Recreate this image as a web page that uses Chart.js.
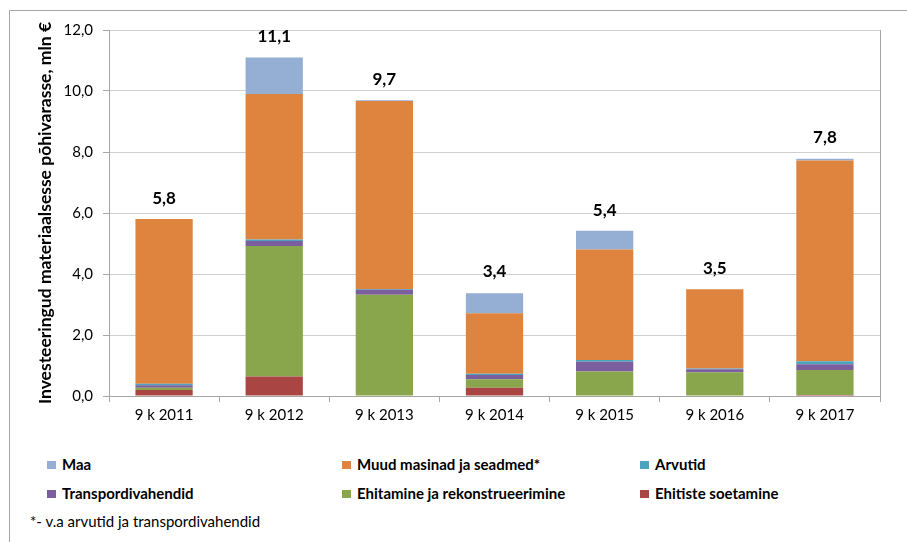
<!DOCTYPE html>
<html>
<head>
<meta charset="utf-8">
<script src="https://cdn.jsdelivr.net/npm/chart.js@4"></script>
<style>
  body { margin: 0; background: #fff; font-family: Lato, "Open Sans", sans-serif; }
  #frame { position: absolute; left: 9px; top: 10px; width: 910px; height: 540px;
           border-left: 1px solid #a6a6a6; border-top: 1px solid #a6a6a6; }
  #wrap { position: absolute; left: 0; top: 0; width: 907px; height: 440px; }
  .leg { position: absolute; font-size: 15px; font-weight: bold; color: #000; line-height: 18px; }
  .leg span { display: inline-block; width: 9px; height: 8px; margin-right: 6px; vertical-align: 1px; }
  #note { position: absolute; left: 30px; top: 512px; font-size: 15px; color: #000; }
</style>
</head>
<body>
<div id="frame"></div>
<div id="wrap"><canvas id="investChart"></canvas></div>
<div id="legend"></div>
<div id="note">*- v.a arvutid ja transpordivahendid</div>
<script>
// Periods on the x axis
const periods = ['9 k 2011', '9 k 2012', '9 k 2013', '9 k 2014', '9 k 2015', '9 k 2016', '9 k 2017'];

// Investments by type, mln € (stacked from bottom up)
const ehitisteSoetamine = [0.20, 0.64, 0.00, 0.27, 0.00, 0.00, 0.03];
const ehitamine         = [0.07, 4.28, 3.32, 0.28, 0.80, 0.78, 0.82];
const transport         = [0.08, 0.16, 0.16, 0.14, 0.32, 0.10, 0.19];
const arvutid           = [0.05, 0.05, 0.03, 0.04, 0.06, 0.02, 0.10];
const muudMasinad       = [5.40, 4.77, 6.16, 1.98, 3.62, 2.60, 6.58];
const maa               = [0.00, 1.20, 0.03, 0.66, 0.62, 0.00, 0.06];

// Totals shown above the bars
const totals = [5.8, 11.1, 9.7, 3.4, 5.4, 3.5, 7.8];

const yTicks = [0, 2, 4, 6, 8, 10, 12];

const series = [
    { label: 'Ehitiste soetamine', data: ehitisteSoetamine, color: '#A94644' },
    { label: 'Ehitamine ja rekonstrueerimine', data: ehitamine, color: '#8AA64C' },
    { label: 'Transpordivahendid', data: transport, color: '#7B5E9E' },
    { label: 'Arvutid', data: arvutid, color: '#4BA3BD' },
    { label: 'Muud masinad ja seadmed*', data: muudMasinad, color: '#DE843E' },
    { label: 'Maa', data: maa, color: '#95AED4' }
];

// Legend laid out in three columns like the original
const legendOrder = [
    ['Maa', 47, 455], ['Muud masinad ja seadmed*', 342, 455], ['Arvutid', 640, 455],
    ['Transpordivahendid', 47, 484], ['Ehitamine ja rekonstrueerimine', 342, 484], ['Ehitiste soetamine', 640, 484]
];
const legendDiv = document.getElementById('legend');
legendOrder.forEach(item => {
    const s = series.find(d => d.label === item[0]);
    const el = document.createElement('div');
    el.className = 'leg';
    el.style.left = item[1] + 'px';
    el.style.top = item[2] + 'px';
    el.innerHTML = '<span style="background:' + s.color + '"></span>' + s.label;
    legendDiv.appendChild(el);
});

const fmt = v => v.toFixed(1).replace('.', ',');

// Draw the totals above each stack
const totalLabels = {
    id: 'totalLabels',
    afterDatasetsDraw(chart) {
        const ctx = chart.ctx;
        const x = chart.scales.x, y = chart.scales.y;
        ctx.save();
        ctx.font = 'bold 17px Lato, "Open Sans", sans-serif';
        ctx.fillStyle = '#000';
        ctx.textAlign = 'center';
        ctx.textBaseline = 'middle';
        totals.forEach((t, i) => {
            ctx.fillText(fmt(t), x.getPixelForValue(i), y.getPixelForValue(t) - 21);
        });
        ctx.restore();
    }
};

new Chart(document.getElementById('investChart'), {
    type: 'bar',
    data: {
        labels: periods,
        datasets: series.map(s => ({
            label: s.label,
            data: s.data,
            backgroundColor: s.color,
            borderWidth: 0,
            categoryPercentage: 1,
            barPercentage: 0.52
        }))
    },
    options: {
        responsive: true,
        maintainAspectRatio: false,
        animation: false,
        layout: { padding: { left: 0, right: 27, top: 30, bottom: 0 } },
        plugins: {
            legend: { display: false },
            tooltip: { enabled: false }
        },
        scales: {
            x: {
                stacked: true,
                offset: true,
                grid: { offset: true, drawOnChartArea: false, color: '#a6a6a6', tickLength: 6 },
                border: { color: '#a6a6a6' },
                ticks: { color: '#000', font: { size: 15, family: 'Lato' }, padding: 4 },
                afterFit: s => { s.height = 44; }
            },
            y: {
                stacked: true,
                min: 0,
                max: 12,
                afterBuildTicks: s => { s.ticks = yTicks.map(v => ({ value: v })); },
                grid: { color: '#d0d0d0', tickLength: 6, tickColor: '#a6a6a6' },
                border: { color: '#a6a6a6' },
                ticks: { color: '#000', font: { size: 15, family: 'Lato' }, padding: 10, callback: v => fmt(v) },
                title: {
                    display: true,
                    text: 'Investeeringud materiaalsesse põhivarasse, mln €',
                    color: '#000',
                    font: { size: 17.5, weight: 'bold', family: 'Lato' },
                    padding: { top: 35, bottom: 0 }
                },
                afterFit: s => { s.width = 109; }
            },
            yRight: {
                position: 'right',
                min: 0,
                max: 12,
                grid: { drawOnChartArea: false, drawTicks: false },
                border: { color: '#a6a6a6' },
                ticks: { display: false },
                afterFit: s => { s.width = 0; }
            }
        }
    },
    plugins: [totalLabels]
});
</script>
</body>
</html>
